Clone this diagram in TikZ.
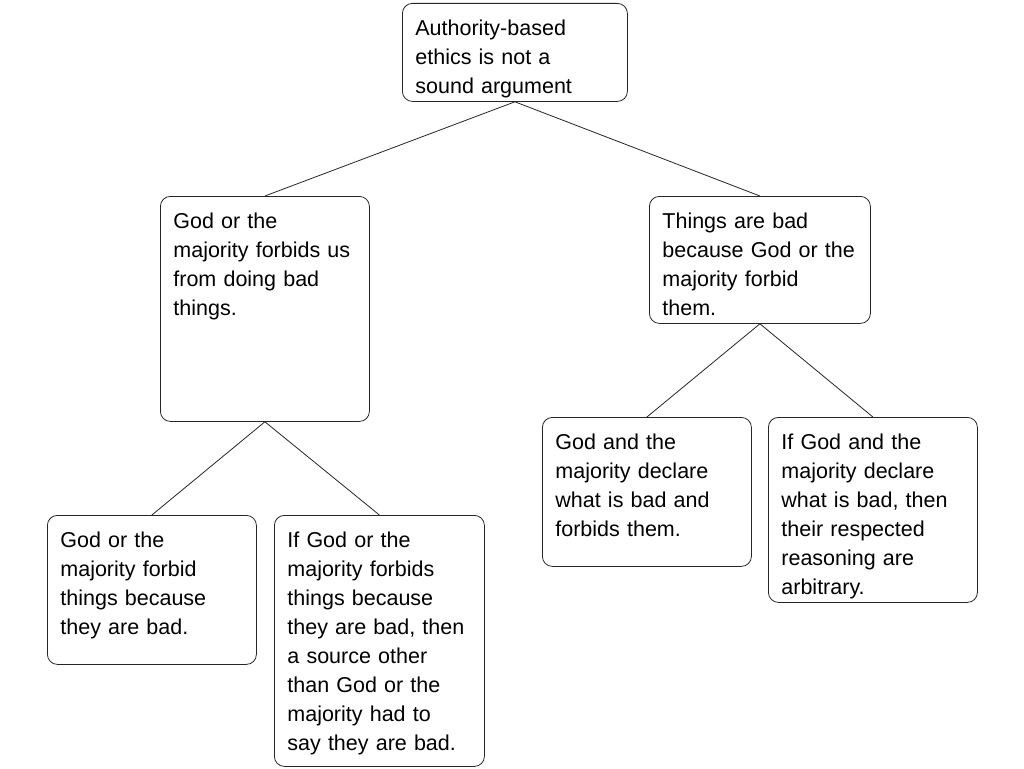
\documentclass[tikz,border=0pt]{standalone}
\usepackage{fontspec}
\setmainfont{Liberation Sans}
\usepackage{tikz}

\tikzset{
    claim/.style={draw=black!85, line width=0.8pt, rounded corners=10pt, fill=white,
        anchor=north west, align=left, inner xsep=13pt, inner ysep=0pt,
        text height=32pt, font=\fontsize{21.5}{29}\selectfont},
    link/.style={draw=black!85, line width=0.8pt}
}

\begin{document}
\begin{tikzpicture}[x=1pt, y=-1pt]
    % Canvas
    \fill[white] (0,0) rectangle (1024,768);
    \useasboundingbox (0,0) rectangle (1024,768);

    % Top claim
    \node[claim, text width=199pt, text depth=66pt] (root) at (402,3)
        {Authority-based\\ethics is not a\\sound argument};

    % Second level
    \node[claim, text width=183pt, text depth=193pt] (forbid) at (160,196)
        {God or the\\majority forbids us\\from doing bad\\things.};
    \node[claim, text width=195pt, text depth=95pt] (because) at (649,196)
        {Things are bad\\because God or the\\majority forbid\\them.};

    % Third level, left
    \node[claim, text width=183pt, text depth=117pt] (badfirst) at (47,515)
        {God or the\\majority forbid\\things because\\they are bad.};
    \node[claim, text width=184pt, text depth=219pt] (source) at (274,515)
        {If God or the\\majority forbids\\things because\\they are bad, then\\a source other\\than God or the\\majority had to\\say they are bad.};

    % Third level, right
    \node[claim, text width=183pt, text depth=117pt] (declare) at (542,417)
        {God and the\\majority declare\\what is bad and\\forbids them.};
    \node[claim, text width=183pt, text depth=153pt] (arbitrary) at (768,417)
        {If God and the\\majority declare\\what is bad, then\\their respected\\reasoning are\\arbitrary.};

    % Links
    \draw[link] (root.south) -- (forbid.north);
    \draw[link] (root.south) -- (because.north);
    \draw[link] (forbid.south) -- (badfirst.north);
    \draw[link] (forbid.south) -- (source.north);
    \draw[link] (because.south) -- (declare.north);
    \draw[link] (because.south) -- (arbitrary.north);
\end{tikzpicture}
\end{document}
